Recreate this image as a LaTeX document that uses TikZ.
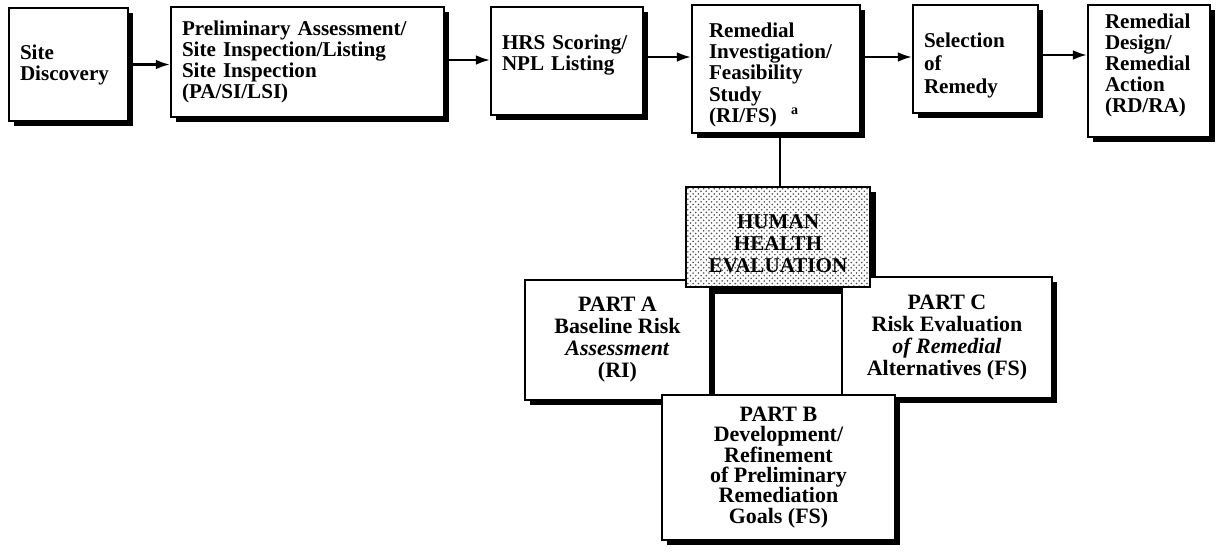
\documentclass[tikz,border=0pt]{standalone}
\usepackage{fontspec}
\setmainfont{Liberation Serif}
\usetikzlibrary{arrows.meta,shadows,patterns,backgrounds}

\tikzset{
  box/.style={draw, line width=1.2pt, fill=white, inner sep=0pt,
    drop shadow={shadow xshift=3pt, shadow yshift=-3pt, fill=black, opacity=1}},
  stage/.style={box, align=left, inner xsep=0.22cm,
    font=\fontsize{12}{12}\selectfont\bfseries},
  part/.style={box, align=center, font=\fontsize{12.5}{12.5}\selectfont\bfseries},
  hhbox/.style={draw, line width=1.2pt, preaction={fill=white},
    pattern=crosshatch dots, pattern color=black!70, align=center,
    font=\fontsize{12}{12.5}\selectfont\bfseries},
  flow/.style={line width=1.3pt, -{Latex[length=8pt,width=5.5pt]}},
}

\begin{document}
\begin{tikzpicture}[x=0.02cm, y=-0.02cm]
    \useasboundingbox (0,0) rectangle (1217,555);
    % top row
    \node[stage, text width=1.94cm, minimum height=2.26cm] (sd) at (68.5,64.5)
      {Site\\Discovery};
    \node[stage, text width=5.02cm, minimum height=2.2cm] (pa) at (307.5,62)
      {Preliminary Assessment/\\Site Inspection/Listing\\Site Inspection\\(PA/SI/LSI)};
    \node[stage, text width=2.6cm, minimum height=2.16cm] (hrs) at (567,61)
      {HRS Scoring/\\NPL Listing\\[-3pt]\mbox{}};
    \node[stage, inner xsep=0.34cm, text width=2.68cm, minimum height=2.56cm] (rifs) at (776,69)
      {\mbox{}\\[3pt]Remedial\\Investigation/\\Feasibility\\Study\\(RI/FS)~~\textsuperscript{a}};
    \node[stage, text width=2.06cm, minimum height=2.16cm, font=\fontsize{12}{13}\selectfont\bfseries] (sel) at (975.5,59)
      {\mbox{}\\[3pt]Selection\\of\\Remedy};
    \node[stage, inner xsep=0.34cm, text width=1.76cm, minimum height=2.64cm] (rdra) at (1149,71)
      {Remedial\\Design/\\Remedial\\Action\\(RD/RA)\\[-3pt]\mbox{}};
    \draw[flow] (sd.east) to (sd.east -| pa.west);
    \draw[flow] (pa.west -| pa.east) ++(0,-2) coordinate (p1) (p1) to (p1 -| hrs.west);
    \draw[flow] (hrs.east) ++(0,-4) coordinate (p2) (p2) to (p2 -| rifs.west);
    \draw[flow] (rifs.east) ++(0,-12) coordinate (p3) (p3) to (p3 -| sel.west);
    \draw[flow] (sel.east) ++(0,-4) coordinate (p4) (p4) to (p4 -| rdra.west);

    % human health evaluation
    \node[part, minimum width=3.7cm, minimum height=2.4cm] (pta) at (617.5,340)
      {PART A\\Baseline Risk\\\textit{Assessment}\\(RI)};
    \node[part, minimum width=4.2cm, minimum height=2.42cm] (ptc) at (947,337.5)
      {PART C\\Risk Evaluation\\\textit{of Remedial}\\Alternatives (FS)};
    \node[hhbox, minimum width=3.68cm, minimum height=2cm] (hh) at (778,237)
      {\mbox{}\\[3pt]HUMAN\\HEALTH\\EVALUATION};
    \begin{pgfonlayer}{background}
      \fill ([shift={(3pt,-3.5pt)}]hh.south west) rectangle ([shift={(3pt,-3.5pt)}]hh.north east);
    \end{pgfonlayer}
    \node[part, minimum width=4.66cm, minimum height=2.9cm, font=\fontsize{12.5}{11.6}\selectfont\bfseries] (ptb) at (778.5,467.5)
      {PART B\\Development/\\Refinement\\of Preliminary\\Remediation\\Goals (FS)};
    \draw[line width=0.8pt] (rifs.south) ++(4,0) coordinate (p5) (p5) to (p5 |- hh.north);
\end{tikzpicture}
\end{document}
